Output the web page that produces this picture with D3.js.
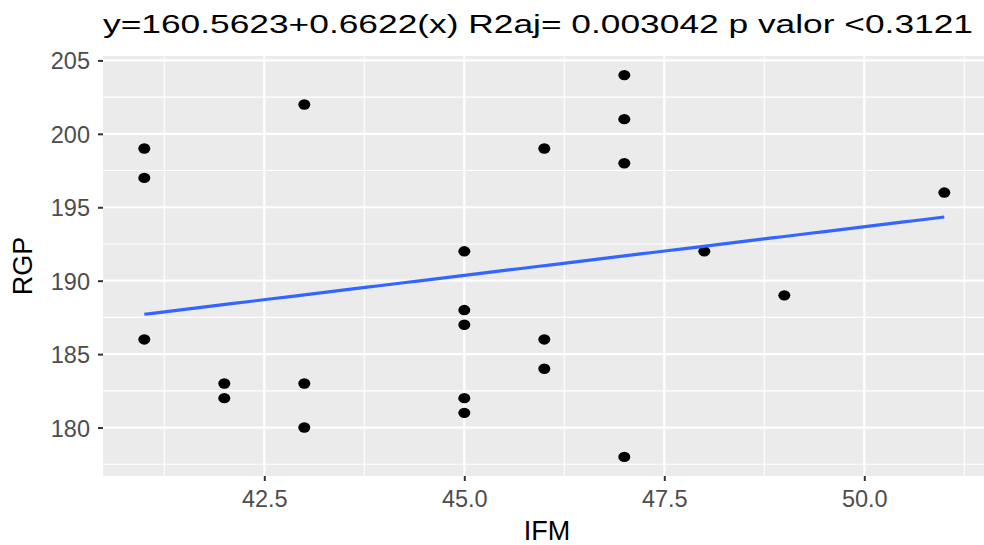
<!DOCTYPE html>
<html><head><meta charset="utf-8">
<script src="https://cdn.jsdelivr.net/npm/d3@7"></script>
<style>html,body{margin:0;padding:0;background:#fff;}</style>
</head><body>
<script>
const ifm = [41,41,41, 42,42, 43,43,43, 45,45,45,45,45, 46,46,46, 47,47,47,47, 48, 49, 51];
const rgp = [199,197,186, 183,182, 202,183,180, 192,188,187,182,181, 199,186,184, 204,201,198,178, 192, 189, 196];
const xTicks = [42.5, 45.0, 47.5, 50.0];
const yTicks = [180, 185, 190, 195, 200, 205];
const xMinor = [41.25, 43.75, 46.25, 48.75, 51.25];
const yMinor = [177.5, 182.5, 187.5, 192.5, 197.5, 202.5];
const coef = [160.5623, 0.6622];
const title = "y=160.5623+0.6622(x) R2aj= 0.003042  p valor <0.3121";

const W = 984, H = 545;
const P = {l:103, r:984, t:56, b:476};
const svg = d3.select("body").append("svg").attr("width", W).attr("height", H)
  .style("font-family", "'Liberation Sans', Arial, sans-serif");

const x = d3.scaleLinear().domain([40.5, 51.5]).range([104.3, 984.3]);
const y = d3.scaleLinear().domain([176.7, 205.3]).range([P.b, P.t]);

svg.append("rect").attr("x", P.l).attr("y", P.t).attr("width", P.r-P.l).attr("height", P.b-P.t).attr("fill", "#EBEBEB");

const g = svg.append("g");
g.selectAll(".ym").data(yMinor).join("line").attr("x1", P.l).attr("x2", P.r)
  .attr("y1", d=>y(d)).attr("y2", d=>y(d)).attr("stroke", "#fff").attr("stroke-width", 1.1);
g.selectAll(".xm").data(xMinor).join("line").attr("y1", P.t).attr("y2", P.b)
  .attr("x1", d=>x(d)).attr("x2", d=>x(d)).attr("stroke", "#fff").attr("stroke-width", 1.1);
g.selectAll(".yM").data(yTicks).join("line").attr("x1", P.l).attr("x2", P.r)
  .attr("y1", d=>y(d)).attr("y2", d=>y(d)).attr("stroke", "#fff").attr("stroke-width", 2.2);
g.selectAll(".xM").data(xTicks).join("line").attr("y1", P.t).attr("y2", P.b)
  .attr("x1", d=>x(d)).attr("x2", d=>x(d)).attr("stroke", "#fff").attr("stroke-width", 2.2);

// axes
const xAxis = d3.axisBottom(x).tickValues(xTicks).tickFormat(d3.format(".1f")).tickSize(5).tickPadding(4);
const xa = svg.append("g").attr("transform", `translate(0,${P.b})`).call(xAxis);
xa.select(".domain").remove();
xa.selectAll("line").attr("stroke", "#333").attr("stroke-width", 2);
xa.selectAll("text").attr("fill", "#4D4D4D").style("font-size", "23.5px").attr("dy", "0.93em");

const yAxis = d3.axisLeft(y).tickValues(yTicks).tickSize(5).tickPadding(8);
const ya = svg.append("g").attr("transform", `translate(${P.l},0)`).call(yAxis);
ya.select(".domain").remove();
ya.selectAll("line").attr("stroke", "#333").attr("stroke-width", 2);
ya.selectAll("text").attr("fill", "#4D4D4D").style("font-size", "23.5px").attr("dy", "0.36em");

// points
svg.append("g").selectAll("ellipse").data(ifm.map((d,i)=>[d, rgp[i]])).join("ellipse")
  .attr("cx", d=>x(d[0])).attr("cy", d=>y(d[1])).attr("rx", 6).attr("ry", 5.2).attr("fill", "#000");

// regression line
const xr = d3.extent(ifm);
const lineData = d3.range(0, 80).map(i => xr[0] + (xr[1]-xr[0]) * i / 79);
svg.append("path").datum(lineData)
  .attr("d", d3.line().x(d=>x(d)).y(d=>y(coef[0] + coef[1]*d)))
  .attr("fill", "none").attr("stroke", "#3366FF").attr("stroke-width", 3.2);

// titles
svg.append("text").attr("x", 103).attr("y", 33).text(title)
  .attr("textLength", 870).attr("lengthAdjust", "spacingAndGlyphs")
  .style("font-size", "26px").attr("fill", "#000");
svg.append("text").attr("x", 547).attr("y", 540).attr("text-anchor", "middle")
  .text("IFM").style("font-size", "27px").attr("fill", "#000");
svg.append("text").attr("transform", `translate(32,${(P.t+P.b)/2}) rotate(-90)`).attr("text-anchor", "middle")
  .text("RGP").style("font-size", "27px").attr("fill", "#000");
</script>
</body></html>
